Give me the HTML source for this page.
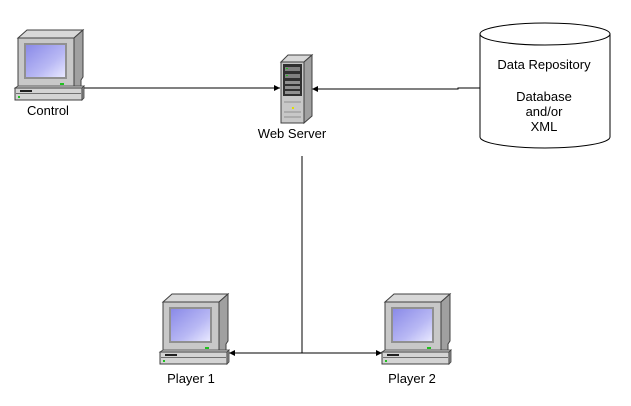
<!DOCTYPE html>
<html><head><meta charset="utf-8"><style>
html,body{margin:0;padding:0;background:#fff;}
svg{display:block;}
text{font-family:"Liberation Sans",Arial,sans-serif;font-size:13px;fill:#000;}
</style></head><body>
<svg width="631" height="406" viewBox="0 0 631 406" xmlns="http://www.w3.org/2000/svg">
<defs>
<linearGradient id="scr" x1="0" y1="0" x2="1" y2="1">
<stop offset="0" stop-color="#8a8ae8"/><stop offset="0.6" stop-color="#b8b8f4"/><stop offset="1" stop-color="#e8e8ff"/>
</linearGradient>
<g id="pc">
<polygon points="3,8 12,0 68,0 59,8" fill="#d8d8d8" stroke="#404040" stroke-width="1"/>
<polygon points="59,8 68,0 68,47 66,50 66,58 59,58" fill="#a0a0a0" stroke="#404040" stroke-width="1"/>
<rect x="3" y="8" width="56" height="50" fill="#c8c8c8" stroke="#404040" stroke-width="1"/>
<rect x="9" y="13" width="43" height="36" fill="#909090"/>
<rect x="11" y="15" width="39" height="32" fill="url(#scr)"/>
<rect x="45" y="53" width="4" height="2" fill="#20c020"/>
<polygon points="0,58 3,56 69,56 67,58" fill="#d0d0d0" stroke="#404040" stroke-width="0.8"/>
<rect x="0" y="58" width="67" height="12" fill="#d4d4d4" stroke="#404040" stroke-width="1"/>
<rect x="1" y="63" width="65" height="1" fill="#707070"/>
<rect x="5" y="60" width="12" height="2" fill="#202020"/>
<rect x="3" y="66" width="2" height="2" fill="#20c020"/>
<polygon points="67,58 69,56 69,68 67,70" fill="#909090" stroke="#404040" stroke-width="0.8"/>
</g>
<marker id="ar" markerWidth="6" markerHeight="6" refX="6" refY="3" orient="auto" markerUnits="userSpaceOnUse">
<polygon points="0,0 6,3 0,6" fill="#000"/></marker>
</defs>

<line x1="84" y1="88" x2="280" y2="88" stroke="#000" stroke-width="1" marker-end="url(#ar)"/>
<polyline points="480,88 458,88 458,89 312,89" fill="none" stroke="#000" stroke-width="1" marker-end="url(#ar)"/>
<line x1="302" y1="156" x2="302" y2="353" stroke="#000" stroke-width="1"/>
<line x1="302" y1="353" x2="229" y2="353" stroke="#000" stroke-width="1" marker-end="url(#ar)"/>
<line x1="302" y1="353" x2="382" y2="353" stroke="#000" stroke-width="1" marker-end="url(#ar)"/>

<use href="#pc" x="15" y="30"/>
<use href="#pc" x="160" y="294"/>
<use href="#pc" x="382" y="294"/>

<text x="48" y="115" text-anchor="middle">Control</text>
<text x="191" y="383" text-anchor="middle">Player 1</text>
<text x="412" y="383" text-anchor="middle">Player 2</text>

<polygon points="281,62 288,55 312,55 304,62" fill="#d8d8d8" stroke="#404040"/>
<polygon points="304,62 312,55 312,116 304,123" fill="#a0a0a0" stroke="#404040"/>
<rect x="281" y="62" width="23" height="61" fill="#c8c8c8" stroke="#404040"/>
<rect x="283" y="64" width="19" height="32" fill="#303030"/>
<rect x="285" y="67" width="15" height="4" fill="#808080"/>
<rect x="285" y="74" width="15" height="4" fill="#808080"/>
<rect x="285" y="81" width="15" height="3" fill="#909090"/>
<rect x="285" y="86" width="15" height="3" fill="#909090"/>
<rect x="285" y="91" width="15" height="3" fill="#909090"/>
<rect x="286" y="68" width="2" height="1" fill="#20c020"/>
<rect x="286" y="75" width="2" height="1" fill="#20c020"/>
<rect x="292" y="107" width="2" height="2" fill="#e0e000"/>
<line x1="284" y1="102" x2="301" y2="102" stroke="#909090"/>
<line x1="284" y1="112" x2="301" y2="112" stroke="#909090"/>
<line x1="284" y1="117" x2="301" y2="117" stroke="#909090"/>
<text x="292" y="138" text-anchor="middle">Web Server</text>

<path d="M480,34 L480,137 A65,11 0 0 0 610,137 L610,34" fill="#fff" stroke="#000" stroke-width="1"/>
<ellipse cx="545" cy="34" rx="65" ry="11" fill="#fff" stroke="#000" stroke-width="1"/>
<text x="544" y="69" text-anchor="middle">Data Repository</text>
<text x="544" y="101" text-anchor="middle">Database</text>
<text x="544" y="116" text-anchor="middle">and/or</text>
<text x="544" y="131" text-anchor="middle">XML</text>
</svg>
</body></html>
